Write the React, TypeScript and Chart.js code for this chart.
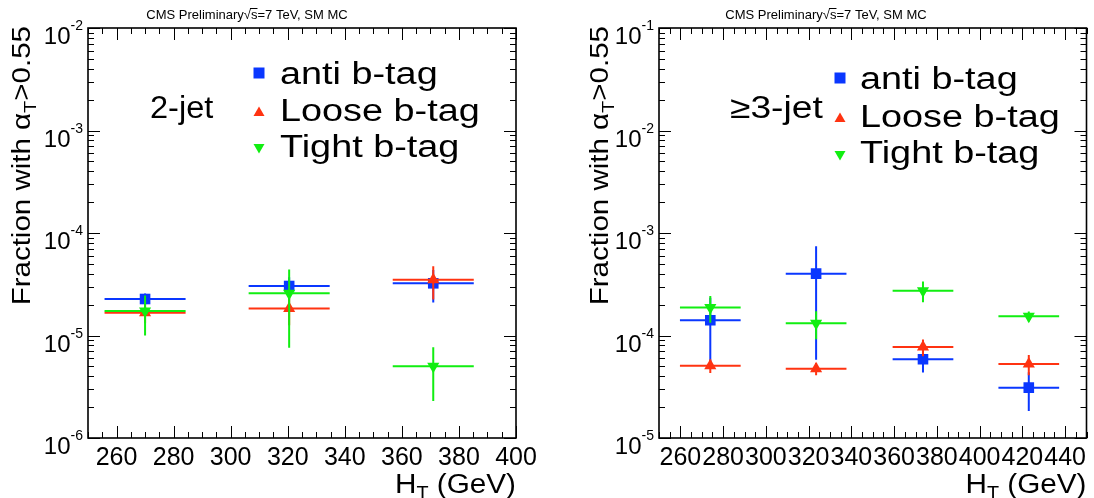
import React, { useEffect, useRef } from 'react';
import { Chart, registerables } from 'chart.js';

Chart.register(...registerables);

const FONT = '"Liberation Sans", Arial, Helvetica, sans-serif';

// ---------- data: 2-jet ----------
const ht2 = [270, 320.5, 371];
const anti2 = [2.27e-5, 3.04e-5, 3.23e-5];
const anti2Err = [0.3e-5, 0.67e-5, 1.13e-5];
const loose2 = [1.67e-5, 1.83e-5, 3.5e-5];
const loose2Err = [0.35e-5, 0.57e-5, 1.25e-5];
const tight2 = [1.73e-5, 2.58e-5, 5.0e-6];
const tight2Err = [0.73e-5, 1.82e-5, 2.7e-6];

// ---------- data: >=3-jet ----------
const ht3 = [274, 323.5, 373.5, 423];
const anti3 = [1.41e-4, 4.01e-4, 5.86e-5, 3.1e-5];
const anti3Err = [9.3e-5, 3.43e-4, 1.5e-5, 1.27e-5];
const loose3 = [5.07e-5, 4.74e-5, 7.72e-5, 5.27e-5];
const loose3Err = [0.76e-5, 0.64e-5, 1.43e-5, 1.17e-5];
const tight3 = [1.88e-4, 1.32e-4, 2.74e-4, 1.54e-4];
const tight3Err = [0.55e-4, 0.4e-4, 0.63e-4, 0.17e-4];

const htHalfWidth = 14.2;

const seriesNames = ['anti b-tag', 'Loose b-tag', 'Tight b-tag'];
const seriesColors = ['#0a37ff', '#ff3311', '#11ee11'];

const xTickLabels2 = [260, 280, 300, 320, 340, 360, 380, 400];
const xTickLabels3 = [260, 280, 300, 320, 340, 360, 380, 400, 420, 440];

type Panel = {
  xMin: number; xMax: number; yMin: number; yMax: number;
  yAxisWidth: number; padRight: number;
  xLabels: number[];
  jetLabel: string; jetX: number; jetY: number; jetStretch: number;
  legMarkX: number; legTextX: number; legMarkY: number[]; legTextY: number[];
  topTextX: number; yTitleX: number;
  ht: number[]; vals: number[][]; errs: number[][];
};

const panels: Panel[] = [
  {
    xMin: 250, xMax: 400, yMin: 1e-6, yMax: 1e-2,
    yAxisWidth: 88, padRight: 31,
    xLabels: xTickLabels2,
    jetLabel: '2-jet', jetX: 150, jetY: 118, jetStretch: 1.05,
    legMarkX: 259, legTextX: 280, legMarkY: [73, 112, 148], legTextY: [84, 121, 157],
    topTextX: 247, yTitleX: 30,
    ht: ht2, vals: [anti2, loose2, tight2], errs: [anti2Err, loose2Err, tight2Err],
  },
  {
    xMin: 250, xMax: 450, yMin: 1e-5, yMax: 1e-1,
    yAxisWidth: 112, padRight: 3,
    xLabels: xTickLabels3,
    jetLabel: '\u22653-jet', jetX: 183, jetY: 118, jetStretch: 1.2,
    legMarkX: 293, legTextX: 313, legMarkY: [78, 118, 155], legTextY: [89, 127, 163],
    topTextX: 279, yTitleX: 61,
    ht: ht3, vals: [anti3, loose3, tight3], errs: [anti3Err, loose3Err, tight3Err],
  },
];

type Piece = { t: string; size: number; dy?: number };

function richWidth(ctx: CanvasRenderingContext2D, pieces: Piece[], sx: number) {
  let w = 0;
  for (const p of pieces) {
    ctx.font = `${p.size}px ${FONT}`;
    w += ctx.measureText(p.t).width * sx;
  }
  return w;
}

function drawRich(ctx: CanvasRenderingContext2D, pieces: Piece[], x: number, y: number, align: 'left' | 'right' | 'center', sx = 1) {
  const w = richWidth(ctx, pieces, sx);
  let cx = align === 'left' ? x : align === 'right' ? x - w : x - w / 2;
  const pos: number[] = [];
  for (const p of pieces) {
    ctx.save();
    ctx.font = `${p.size}px ${FONT}`;
    ctx.textAlign = 'left';
    ctx.textBaseline = 'alphabetic';
    const pw = ctx.measureText(p.t).width * sx;
    ctx.translate(cx, y + (p.dy || 0));
    ctx.scale(sx, 1);
    ctx.fillText(p.t, 0, 0);
    ctx.restore();
    pos.push(cx);
    cx += pw;
  }
  pos.push(cx);
  return pos;
}

function drawMarker(ctx: CanvasRenderingContext2D, kind: number, x: number, y: number, color: string) {
  ctx.save();
  ctx.fillStyle = color;
  ctx.beginPath();
  if (kind === 0) {
    ctx.rect(x - 5.5, y - 5.5, 11, 11);
  } else if (kind === 1) {
    ctx.moveTo(x, y - 5.5); ctx.lineTo(x + 5.5, y + 4); ctx.lineTo(x - 5.5, y + 4); ctx.closePath();
  } else {
    ctx.moveTo(x, y + 5.5); ctx.lineTo(x + 5.5, y - 4); ctx.lineTo(x - 5.5, y - 4); ctx.closePath();
  }
  ctx.fill();
  ctx.restore();
}

function makePlugin(panel: Panel) {
  return {
    id: 'rootFrame',
    beforeDatasetDraw(chart: any, args: any) {
      const ds = chart.data.datasets[args.index];
      const xs = chart.scales.x, ys = chart.scales.y;
      const ctx: CanvasRenderingContext2D = chart.ctx;
      ctx.save();
      ctx.strokeStyle = ds.borderColor;
      ctx.lineWidth = 2;
      ds.data.forEach((p: any, i: number) => {
        const px = xs.getPixelForValue(p.x), py = ys.getPixelForValue(p.y);
        const x0 = xs.getPixelForValue(p.x - ds.errX), x1 = xs.getPixelForValue(p.x + ds.errX);
        const y0 = ys.getPixelForValue(Math.max(p.y - ds.errY[i], panel.yMin * 0.5));
        const y1 = ys.getPixelForValue(p.y + ds.errY[i]);
        ctx.beginPath();
        ctx.moveTo(x0, py); ctx.lineTo(x1, py);
        ctx.moveTo(px, y0); ctx.lineTo(px, y1);
        ctx.stroke();
      });
      ctx.restore();
    },
    afterDraw(chart: any) {
      const ctx: CanvasRenderingContext2D = chart.ctx;
      const a = chart.chartArea;
      const xs = chart.scales.x, ys = chart.scales.y;
      ctx.save();
      ctx.fillStyle = '#000';
      ctx.strokeStyle = '#000';
      // ticks
      ctx.lineWidth = 1;
      ctx.beginPath();
      for (let v = Math.ceil(panel.xMin / 5) * 5; v <= panel.xMax; v += 5) {
        const px = Math.round(xs.getPixelForValue(v)) + 0.5;
        const len = v % 20 === 0 ? 12 : 6;
        ctx.moveTo(px, a.bottom); ctx.lineTo(px, a.bottom - len);
        ctx.moveTo(px, a.top); ctx.lineTo(px, a.top + len);
      }
      const e0 = Math.round(Math.log10(panel.yMin)), e1 = Math.round(Math.log10(panel.yMax));
      for (let e = e0; e <= e1; e++) {
        for (let k = 1; k <= 9; k++) {
          const v = k * Math.pow(10, e);
          if (v < panel.yMin * 0.999 || v > panel.yMax * 1.001) continue;
          const py = Math.round(ys.getPixelForValue(v)) + 0.5;
          const len = k === 1 ? 12 : 6;
          ctx.moveTo(a.left, py); ctx.lineTo(a.left + len, py);
          ctx.moveTo(a.right, py); ctx.lineTo(a.right - len, py);
        }
      }
      ctx.stroke();
      // frame
      ctx.lineWidth = 1.6;
      ctx.strokeRect(a.left, a.top, a.right - a.left, a.bottom - a.top);
      // x labels
      ctx.font = `25px ${FONT}`;
      ctx.textAlign = 'center';
      ctx.textBaseline = 'alphabetic';
      for (const v of panel.xLabels) {
        ctx.fillText(String(v), xs.getPixelForValue(v), a.bottom + 27);
      }
      // y labels 10^n
      for (let e = e0; e <= e1; e++) {
        const py = ys.getPixelForValue(Math.pow(10, e));
        ctx.font = `14px ${FONT}`;
        const expW = ctx.measureText(String(e)).width;
        ctx.textAlign = 'right';
        ctx.fillText(String(e), a.left - 5, py + 2);
        ctx.font = `24px ${FONT}`;
        ctx.fillText('10', a.left - 5 - expW, py + 16);
      }
      // x title
      drawRich(ctx, [
        { t: 'H', size: 27 },
        { t: 'T', size: 18, dy: 6 },
        { t: ' (GeV)', size: 27 },
      ], a.right, 493, 'right', 1.1);
      // y title
      ctx.save();
      ctx.translate(panel.yTitleX, 26);
      ctx.rotate(-Math.PI / 2);
      drawRich(ctx, [
        { t: 'Fraction with \u03b1', size: 25 },
        { t: 'T', size: 17, dy: 6 },
        { t: '>0.55', size: 25 },
      ], 0, 0, 'right', 1.18);
      ctx.restore();
      // top text
      const pos = drawRich(ctx, [
        { t: 'CMS Preliminary', size: 13 },
        { t: '\u221a', size: 13 },
        { t: 's', size: 13 },
        { t: '=7 TeV, SM MC', size: 13 },
      ], panel.topTextX, 19, 'center', 1);
      ctx.lineWidth = 1;
      ctx.beginPath();
      ctx.moveTo(pos[2] - 1, 8.5); ctx.lineTo(pos[3], 8.5);
      ctx.stroke();
      // jet label
      drawRich(ctx, [{ t: panel.jetLabel, size: 31 }], panel.jetX, panel.jetY, 'left', panel.jetStretch);
      // legend
      for (let i = 0; i < 3; i++) {
        drawMarker(ctx, i, panel.legMarkX, panel.legMarkY[i], seriesColors[i]);
        ctx.fillStyle = '#000';
        drawRich(ctx, [{ t: seriesNames[i], size: 31 }], panel.legTextX, panel.legTextY[i], 'left', 1.22);
      }
      ctx.restore();
    },
  };
}

function PanelChart({ panel, left }: { panel: Panel; left: number }) {
  const ref = useRef<HTMLCanvasElement | null>(null);
  useEffect(() => {
    if (!ref.current) return;
    const styles = ['rect', 'triangle', 'triangle'];
    const rotations = [0, 0, 180];
    const radii = [7.5, 7, 7];
    const datasets: any[] = seriesNames.map((name, s) => ({
      label: name,
      data: panel.ht.map((x, i) => ({ x, y: panel.vals[s][i] })),
      errY: panel.errs[s],
      errX: htHalfWidth,
      pointStyle: styles[s],
      rotation: rotations[s],
      pointRadius: radii[s],
      backgroundColor: seriesColors[s],
      borderColor: seriesColors[s],
      borderWidth: 0,
      showLine: false,
      order: 2 - s,
    }));
    const chart = new Chart(ref.current, {
      type: 'scatter',
      data: { datasets },
      options: {
        animation: false,
        responsive: false,
        events: [],
        layout: { padding: { top: 28, right: panel.padRight, left: 0, bottom: 0 } },
        plugins: {
          legend: { display: false },
          tooltip: { enabled: false },
          title: { display: false },
        },
        scales: {
          x: {
            type: 'linear', min: panel.xMin, max: panel.xMax,
            ticks: { display: false }, grid: { display: false }, border: { display: false },
            afterFit: (s: any) => { s.height = 60; },
          },
          y: {
            type: 'logarithmic', min: panel.yMin, max: panel.yMax,
            ticks: { display: false }, grid: { display: false }, border: { display: false },
            afterFit: (s: any) => { s.width = panel.yAxisWidth; },
          },
        },
      } as any,
      plugins: [makePlugin(panel) as any],
    });
    return () => chart.destroy();
  }, [panel]);
  return (
    <canvas
      ref={ref}
      width={547}
      height={498}
      style={{ position: 'absolute', left, top: 0, width: 547, height: 498 }}
    />
  );
}

export default function App() {
  return (
    <div style={{ position: 'absolute', left: 0, top: 0, width: 1094, height: 498, background: '#fff' }}>
      <PanelChart panel={panels[0]} left={0} />
      <PanelChart panel={panels[1]} left={547} />
    </div>
  );
}
